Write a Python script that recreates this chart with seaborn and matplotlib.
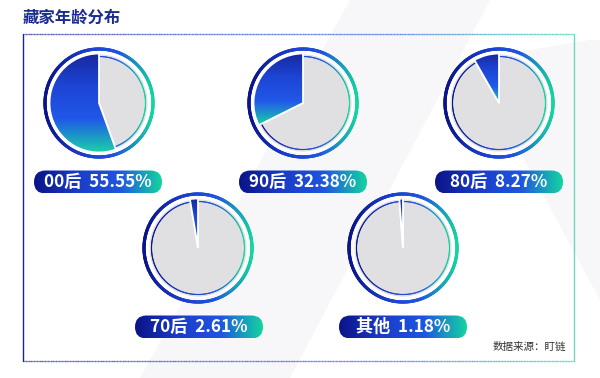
import numpy as np
import matplotlib.pyplot as plt
import seaborn as sns
from matplotlib.patches import FancyBboxPatch, Polygon
from matplotlib.collections import LineCollection

# data
groups = ["00后", "90后", "80后", "70后", "其他"]
shares = [55.55, 32.38, 8.27, 2.61, 1.18]
title = "藏家年龄分布"
source = "数据来源：盯链"

sns.set_theme(style="white")
plt.rcParams['font.family'] = ['Noto Sans CJK SC', 'DejaVu Sans']

W, H = 600, 378
fig = plt.figure(figsize=(6, 3.78), dpi=100)
ax = fig.add_axes([0, 0, 1, 1])
ax.set_aspect('equal')

# colour ramps
h_cmap = sns.blend_palette(["#0a1387", "#1a3cc8", "#1f55e0", "#14d49f"], as_cmap=True)
v_cmap = sns.blend_palette(["#18289e", "#1d45d6", "#2158e8", "#19d0aa"], as_cmap=True)


def Y(y):
    # pixel row (top-down) -> data y (bottom-up)
    return H - y


# faint background watermark shapes
bg = "#f7f7f9"
ax.add_patch(Polygon([(140, Y(378)), (290, Y(378)), (490, Y(0)), (350, Y(0))],
                     closed=True, fc=bg, ec="none", zorder=0))
ax.add_patch(Polygon([(590, Y(40)), (600, Y(40)), (600, Y(300)), (470, Y(60))],
                     closed=True, fc=bg, ec="none", zorder=0))


def grad_line(xs, ys, cmap, lw, zorder, alpha=1.0):
    pts = np.column_stack([xs, ys])
    segs = np.stack([pts[:-1], pts[1:]], axis=1)
    xm = (pts[:-1, 0] + pts[1:, 0]) / 2
    t = (xm - xm.min()) / (xm.max() - xm.min() + 1e-9)
    lc = LineCollection(segs, colors=cmap(t), linewidths=lw, zorder=zorder,
                        alpha=alpha, capstyle='round')
    ax.add_collection(lc)


# frame
fx0, fy0, fx1, fy1 = 23, 34, 574, 361
xs = np.linspace(fx0, fx1, 200)
grad_line(xs, np.full_like(xs, Y(fy0)), h_cmap, 1.0, 1, alpha=0.45)
grad_line(xs, np.full_like(xs, Y(fy1)), h_cmap, 1.0, 1, alpha=0.45)
ax.plot([fx0, fx0], [Y(fy0), Y(fy1)], color="#1b2585", lw=1.0, zorder=1)
ax.plot([fx1, fx1], [Y(fy0), Y(fy1)], color="#6fd6c0", lw=1.0, zorder=1)

ax.text(23, Y(18), title, fontsize=11.8, color="#1c2b8f", fontweight='bold',
        ha='left', va='center')
ax.text(566, Y(347), source, fontsize=7.6, color="#333333", ha='right', va='center')

pie_centers = [(99, 103), (303, 103), (499, 103), (198, 248), (403, 248)]
label_centers = [(98, 182), (303, 182), (499, 182), (199, 327), (403, 327)]

theta = np.linspace(0, 2 * np.pi, 361)
for name, val, (cx, cy), (lx, ly) in zip(groups, shares, pie_centers, label_centers):
    c = (cx, Y(cy))
    wedges, _ = ax.pie([val, 100 - val], center=c, radius=49.5, startangle=90,
                       counterclock=True, frame=True,
                       wedgeprops=dict(edgecolor="white", linewidth=1.3))
    blue, grey = wedges
    grey.set_facecolor("#e0e0e2")
    grey.set_zorder(2)
    # thin inner ring
    grad_line(c[0] + 46.5 * np.cos(theta), c[1] + 46.5 * np.sin(theta), h_cmap, 0.8, 3)
    # outer ring
    grad_line(c[0] + 54 * np.cos(theta), c[1] + 54 * np.sin(theta), h_cmap, 2.3, 3)
    # gradient fill of the share wedge
    blue.set_facecolor("none")
    blue.set_zorder(5)
    bb = blue.get_path().get_extents()
    ext = blue.get_transform().transform_bbox(bb)
    ext = ax.transData.inverted().transform_bbox(ext)
    img = ax.imshow(np.linspace(0, 1, 256).reshape(-1, 1), cmap=v_cmap, aspect='auto',
                    extent=[ext.x0, ext.x1, ext.y0, ext.y1], origin='upper', zorder=4)
    img.set_clip_path(blue)

    # pill label
    pw, ph = 128, 23
    pill = FancyBboxPatch((lx - pw / 2, Y(ly) - ph / 2), pw, ph,
                          boxstyle="round,pad=0,rounding_size=11.5",
                          fc="none", ec="none", zorder=4)
    ax.add_patch(pill)
    pimg = ax.imshow(np.linspace(0, 1, 256).reshape(1, -1), cmap=h_cmap, aspect='auto',
                     extent=[lx - pw / 2, lx + pw / 2, Y(ly) - ph / 2, Y(ly) + ph / 2],
                     zorder=4)
    pimg.set_clip_path(pill)
    ax.text(lx, Y(ly) + 0.5, f"{name}  {val:.2f}%", color="white", fontsize=12.3,
            fontweight='bold', ha='center', va='center', zorder=6)

ax.set_xlim(0, W)
ax.set_ylim(0, H)
ax.axis('off')
fig.savefig("out.png", dpi=100, facecolor="white")
